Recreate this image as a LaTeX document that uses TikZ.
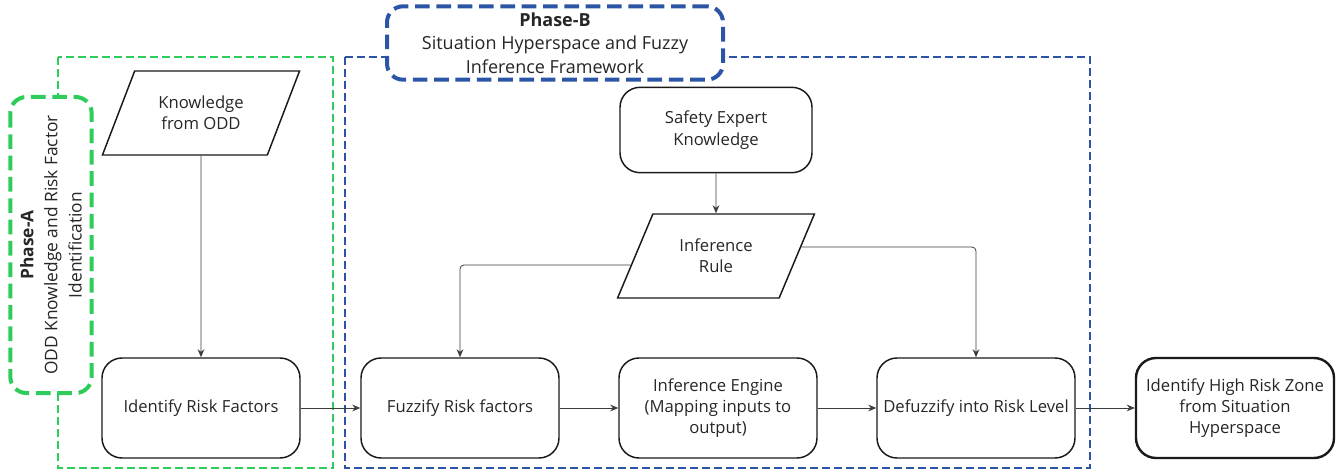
\documentclass[tikz,border=0pt]{standalone}
\usepackage{fontspec}
\setmainfont{Open Sans}
\usetikzlibrary{shapes.geometric,arrows.meta}
\definecolor{phasegreen}{RGB}{46,204,90}
\definecolor{phaseblue}{RGB}{45,85,165}
\definecolor{linkgray}{RGB}{60,60,60}

\begin{document}
\begin{tikzpicture}[x=0.75pt,y=-0.75pt,
	every node/.style={font=\fontsize{12.5}{16}\selectfont, align=center, text=black!85},
	procbox/.style={draw=black!90, line width=1.1pt, rounded corners=15pt, minimum width=148.5pt, minimum height=75pt},
	databox/.style={draw=black!90, line width=1.1pt, trapezium, trapezium stretches=true, trapezium left angle=62, trapezium right angle=118, minimum width=148pt, minimum height=63pt},
	phasebox/.style={line width=3pt, fill=white, rounded corners=12pt, dash pattern=on 11pt off 5pt},
	region/.style={line width=1.2pt, dash pattern=on 6pt off 3pt},
	link/.style={-{Stealth[length=6pt,width=5pt]}, draw=linkgray, line width=0.6pt, rounded corners=3pt}]
	\useasboundingbox (0,0) rectangle (1343,474);
	
	% draw regions
	\draw[region, phasegreen] (58,57) rectangle (333,468);
	\draw[region, phaseblue] (345,57) rectangle (1090,468);
	
	% draw phase labels
	\node[phasebox, draw=phasegreen, rotate=90, minimum width=222pt, minimum height=61pt, font=\fontsize{13}{18}\selectfont] (phaseA) at (51,245)
		{\textbf{Phase-A}\\ODD Knowledge and Risk Factor\\Identification};
	\node[phasebox, draw=phaseblue, minimum width=252pt, minimum height=55pt, font=\fontsize{13.5}{17.5}\selectfont] (phaseB) at (555,43)
		{\textbf{Phase-B}\\Situation Hyperspace and Fuzzy\\Inference Framework};
	
	% draw nodes
	\node[databox] (odd) at (201,113) {Knowledge\\from ODD};
	\node[procbox] (riskid) at (201,408) {Identify Risk Factors};
	\node[procbox, minimum width=144pt, minimum height=64pt] (expert) at (716,130) {Safety Expert\\Knowledge};
	\node[databox] (rule) at (716,256) {Inference\\Rule};
	\node[procbox] (fuzz) at (460,408) {Fuzzify Risk factors};
	\node[procbox] (engine) at (718,408) {Inference Engine\\(Mapping inputs to\\output)};
	\node[procbox] (defuzz) at (976,408) {Defuzzify into Risk Level};
	\node[procbox, line width=1.8pt] (zone) at (1235,408) {Identify High Risk Zone\\from Situation\\Hyperspace};
	
	% draw links
	\draw[link] (odd) -- (riskid);
	\draw[link] (expert) -- (rule);
	\draw[link] (rule.186) -| (fuzz);
	\draw[link] (rule.6) -| (defuzz);
	\draw[link] (riskid) -- (fuzz);
	\draw[link] (fuzz) -- (engine);
	\draw[link] (engine) -- (defuzz);
	\draw[link] (defuzz) -- (zone);
\end{tikzpicture}
\end{document}
